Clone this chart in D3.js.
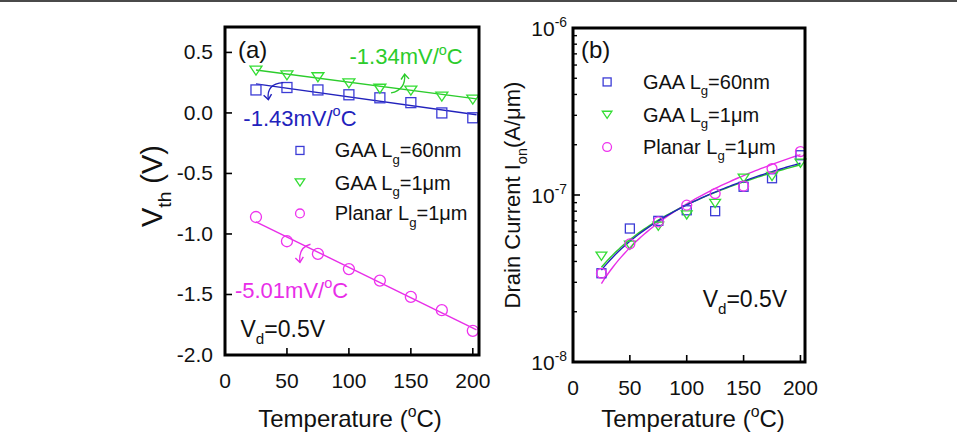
<!DOCTYPE html>
<html>
<head>
<meta charset="utf-8">
<script src="https://cdn.jsdelivr.net/npm/d3@7"></script>
<style>
  html, body { margin: 0; padding: 0; background: #fff; }
  svg { display: block; font-family: "Liberation Sans", Arial, sans-serif; }
</style>
</head>
<body>
<svg id="chart" width="957" height="432"></svg>
<script>
// ---- data ----
const temps = [25, 50, 75, 100, 125, 150, 175, 200];
const seriesNames = ['GAA L_g=60nm', 'GAA L_g=1μm', 'Planar L_g=1μm'];
const seriesColors = ['#3c3cd6', '#33dd33', '#ee33ee'];
const lineColors = ['#2222bc', '#2ccc2c', '#e82ee8'];
const markerShapes = ['square', 'triangle', 'circle'];

// (a) threshold voltage, V
const vthGaa60 = [0.19, 0.21, 0.19, 0.15, 0.125, 0.085, 0.0, -0.04];
const vthGaa1 = [0.35, 0.31, 0.295, 0.245, 0.20, 0.185, 0.135, 0.11];
const vthPlanar = [-0.86, -1.06, -1.165, -1.29, -1.385, -1.52, -1.63, -1.80];
// linear fits: slope in mV/oC, value at 25 oC
const vthSlopes = [-1.43, -1.34, -5.01];
const vthFitAt25 = [0.24, 0.355, -0.90];

// (b) drain current, A/um
const ionGaa60 = [3.4e-8, 6.3e-8, 7.0e-8, 8.1e-8, 8.0e-8, 1.12e-7, 1.26e-7, 1.73e-7];
const ionGaa1 = [4.3e-8, 5.0e-8, 6.5e-8, 7.6e-8, 8.9e-8, 1.26e-7, 1.29e-7, 1.55e-7];
const ionPlanar = [3.4e-8, 5.1e-8, 6.9e-8, 8.7e-8, 1.02e-7, 1.13e-7, 1.44e-7, 1.82e-7];
// power fits I = I25 * ((T + c) / (25 + c))^n
const ionFitAt25 = [3.55e-8, 3.69e-8, 2.95e-8];
const ionFitOffset = [25, 25, 20];
const ionFitExp = [0.98, 0.94, 1.12];

const xTicks = [0, 50, 100, 150, 200];
const vthTicks = [0.5, 0.0, -0.5, -1.0, -1.5, -2.0];
const ionTicks = [1e-6, 1e-7, 1e-8];

const svg = d3.select('#chart');
const FONT = '"Liberation Sans", Arial, sans-serif';

// thin frame line across the top of the image
svg.append('rect').attr('x', 0).attr('y', 0).attr('width', 957).attr('height', 2).attr('fill', '#4a4a4a');

function rich(textSel, parts, size) {
  let off = 0;
  for (const [t, k] of parts) {
    const target = k === 'sub' ? size * 0.32 : k === 'sup' ? -size * 0.42 : 0;
    textSel.append('tspan')
      .attr('dy', target - off)
      .attr('font-size', k ? size * 0.66 : size)
      .text(t);
    off = target;
  }
  return textSel;
}

function legendParts(name) {
  const [a, b] = name.split('_g');
  return [[a, null], ['g', 'sub'], [b, null]];
}

function drawMarker(g, shape, x, y, size, color) {
  let m;
  if (shape === 'square') {
    m = g.append('rect').attr('x', x - size / 2).attr('y', y - size / 2)
      .attr('width', size).attr('height', size);
  } else if (shape === 'triangle') {
    const h = size * 0.9, w = size * 0.6;
    m = g.append('path').attr('d', `M${x - w},${y - h / 2}L${x + w},${y - h / 2}L${x},${y + h / 2}Z`);
  } else {
    m = g.append('circle').attr('cx', x).attr('cy', y).attr('r', size * 0.55);
  }
  m.attr('fill', 'none').attr('stroke', color).attr('stroke-width', 1.3);
}

// arrowheads
const defs = svg.append('defs');
lineColors.forEach((c, i) => {
  defs.append('marker').attr('id', 'arr' + i)
    .attr('viewBox', '-6 -6 12 12').attr('refX', 0).attr('refY', 0)
    .attr('markerWidth', 12).attr('markerHeight', 12).attr('markerUnits', 'userSpaceOnUse')
    .attr('orient', 'auto')
    .append('path').attr('d', 'M-5,-4L0,0L-5,4').attr('fill', 'none')
    .attr('stroke', c).attr('stroke-width', 1.4);
});

function frame(g, L, R, T, B) {
  g.append('rect').attr('x', L).attr('y', T).attr('width', R - L).attr('height', B - T)
    .attr('fill', 'none').attr('stroke', '#000').attr('stroke-width', 3);
}

function xAxis(g, x, B, labelY, titleX) {
  xTicks.forEach(t => {
    g.append('line').attr('x1', x(t)).attr('x2', x(t)).attr('y1', B).attr('y2', B - 7)
      .attr('stroke', '#000').attr('stroke-width', 1.6);
    g.append('text').attr('x', x(t)).attr('y', labelY).attr('text-anchor', 'middle')
      .attr('font-size', 21).attr('fill', '#111').text(t);
  });
  rich(g.append('text').attr('x', titleX).attr('y', 427).attr('text-anchor', 'middle').attr('fill', '#111'),
    [['Temperature (', null], ['o', 'sup'], ['C)', null]], 24);
}

// ================= panel (a) =================
{
  const L = 225, R = 479, T = 27, B = 355;
  const x = d3.scaleLinear().domain([0, 205]).range([L, R]);
  const y = d3.scaleLinear().domain([-2.0, 0.71]).range([B, T]);
  const g = svg.append('g').attr('font-family', FONT);

  const series = [vthGaa60, vthGaa1, vthPlanar];
  const line = d3.line().x(d => x(d[0])).y(d => y(d[1]));
  series.forEach((vals, i) => {
    const fit = [25, 203].map(t => [t, vthFitAt25[i] + vthSlopes[i] * 1e-3 * (t - 25)]);
    g.append('path').datum(fit).attr('d', line).attr('fill', 'none')
      .attr('stroke', lineColors[i]).attr('stroke-width', 1.4);
  });
  series.forEach((vals, i) => {
    vals.forEach((v, j) => drawMarker(g, markerShapes[i], x(temps[j]), y(v), 10, seriesColors[i]));
  });

  frame(g, L, R, T, B);
  vthTicks.forEach(t => {
    g.append('line').attr('x1', L).attr('x2', L + 7).attr('y1', y(t)).attr('y2', y(t))
      .attr('stroke', '#000').attr('stroke-width', 1.6);
    g.append('text').attr('x', L - 12).attr('y', y(t) + 7).attr('text-anchor', 'end')
      .attr('font-size', 21).attr('fill', '#111').text(t.toFixed(1));
  });
  xAxis(g, x, B, 388, (L + R) / 2 - 2);

  rich(g.append('text').attr('transform', `translate(162,186) rotate(-90)`).attr('text-anchor', 'middle').attr('fill', '#111'),
    [['V', null], ['th', 'sub'], [' (V)', null]], 29);

  g.append('text').attr('x', x(10.5)).attr('y', y(0.45)).attr('font-size', 24).attr('fill', '#111').text('(a)');

  // legend
  const legRows = [-0.31, -0.575, -0.83];
  seriesNames.forEach((n, i) => {
    drawMarker(g, markerShapes[i], x(60.5), y(legRows[i]), 8, seriesColors[i]);
    rich(g.append('text').attr('x', x(88.5)).attr('y', y(legRows[i]) + 7).attr('fill', '#111'),
      legendParts(n), 20);
  });

  // slope annotations
  const notes = [
    { i: 1, at: [100.5, 0.405], arrow: [[134, 0.165], [146, 0.19], [145, 0.32]] },
    { i: 0, at: [14.8, -0.105], arrow: [[47, 0.25], [33, 0.24], [35, 0.11]] },
    { i: 2, at: [8.0, -1.525], arrow: [[69, -1.085], [59, -1.11], [60.5, -1.235]] }
  ];
  notes.forEach(nt => {
    const c = lineColors[nt.i];
    rich(g.append('text').attr('x', x(nt.at[0])).attr('y', y(nt.at[1])).attr('fill', c),
      [[`${vthSlopes[nt.i].toFixed(2)}mV/`, null], ['o', 'sup'], ['C', null]], 22);
    const [p0, p1, p2] = nt.arrow.map(p => [x(p[0]), y(p[1])]);
    g.append('path').attr('d', `M${p0}Q${p1} ${p2}`).attr('fill', 'none')
      .attr('stroke', c).attr('stroke-width', 1.3).attr('marker-end', `url(#arr${nt.i})`);
  });

  rich(g.append('text').attr('x', x(12.5)).attr('y', y(-1.85)).attr('fill', '#111'),
    [['V', null], ['d', 'sub'], ['=0.5V', null]], 23);
}

// ================= panel (b) =================
{
  const L = 573, R = 805, T = 28, B = 362;
  const x = d3.scaleLinear().domain([0, 204]).range([L, R]);
  const y = d3.scaleLog().domain([1e-8, 1e-6]).range([B, T]);
  const g = svg.append('g').attr('font-family', FONT);

  const series = [ionGaa60, ionGaa1, ionPlanar];
  const line = d3.line().x(d => x(d[0])).y(d => y(d[1]));
  const fitT = d3.range(25, 200.1, 2.5);
  [2, 1, 0].forEach(i => {
    const c = ionFitOffset[i];
    const fit = fitT.map(t => [t, ionFitAt25[i] * Math.pow((t + c) / (25 + c), ionFitExp[i])]);
    g.append('path').datum(fit).attr('d', line).attr('fill', 'none')
      .attr('stroke', lineColors[i]).attr('stroke-width', 1.4);
  });
  series.forEach((vals, i) => {
    vals.forEach((v, j) => drawMarker(g, markerShapes[i], x(temps[j]), y(v), 9, seriesColors[i]));
  });

  frame(g, L, R, T, B);
  // log ticks, majors with labels and minors
  const minors = [];
  [1e-8, 1e-7].forEach(dec => d3.range(2, 10).forEach(k => minors.push(dec * k)));
  minors.forEach(t => {
    g.append('line').attr('x1', L).attr('x2', L + 4).attr('y1', y(t)).attr('y2', y(t))
      .attr('stroke', '#000').attr('stroke-width', 1.4);
  });
  ionTicks.forEach(t => {
    g.append('line').attr('x1', L).attr('x2', L + 7).attr('y1', y(t)).attr('y2', y(t))
      .attr('stroke', '#000').attr('stroke-width', 1.6);
    rich(g.append('text').attr('x', L - 6).attr('y', y(t) + 8).attr('text-anchor', 'end').attr('fill', '#111'),
      [['10', null], [String(Math.round(Math.log10(t))), 'sup']], 21);
  });
  xAxis(g, x, B, 395, (L + R) / 2 + 4);

  rich(g.append('text').attr('transform', `translate(520,195) rotate(-90)`).attr('text-anchor', 'middle').attr('fill', '#111'),
    [['Drain Current I', null], ['on', 'sub'], ['(A/μm)', null]], 22);

  g.append('text').attr('x', x(7)).attr('y', y(Math.pow(10, -6.18))).attr('font-size', 24).attr('fill', '#111').text('(b)');

  const legRows = [-6.323, -6.52, -6.713];
  seriesNames.forEach((n, i) => {
    const yy = y(Math.pow(10, legRows[i]));
    drawMarker(g, markerShapes[i], x(30), yy, 8, seriesColors[i]);
    rich(g.append('text').attr('x', x(61.5)).attr('y', yy + 7).attr('fill', '#111'),
      legendParts(n), 20);
  });

  rich(g.append('text').attr('x', x(114)).attr('y', y(Math.pow(10, -7.67))).attr('fill', '#111'),
    [['V', null], ['d', 'sub'], ['=0.5V', null]], 23);
}
</script>
</body>
</html>
